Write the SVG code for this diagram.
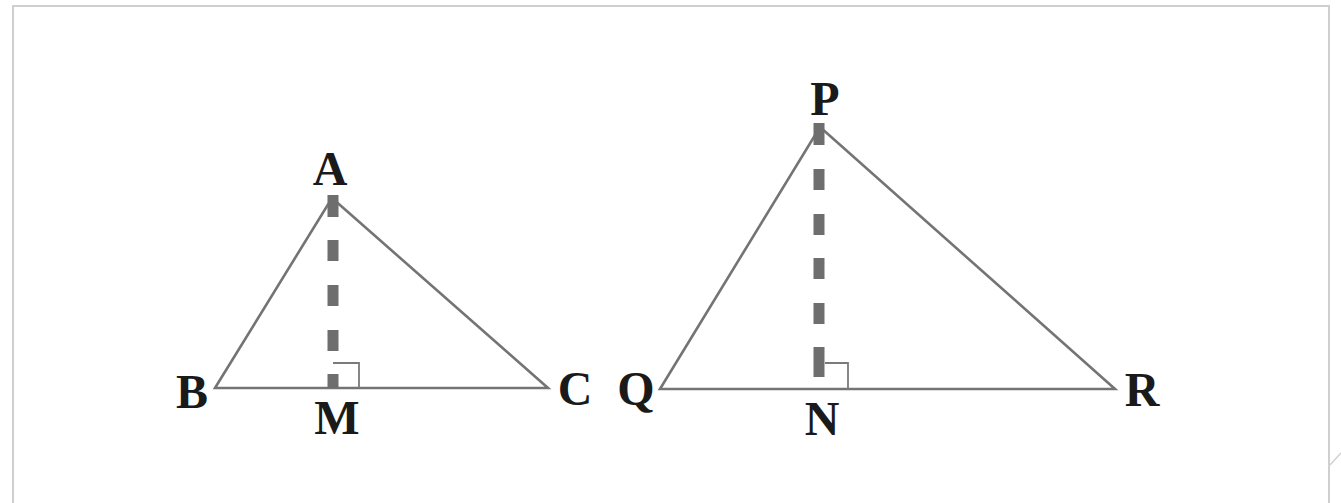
<svg xmlns="http://www.w3.org/2000/svg" width="1341" height="503" viewBox="0 0 1341 503">
<style>
.side{fill:none;stroke:#747474;stroke-width:2.6;stroke-linejoin:miter}
.alt{fill:none;stroke:#6e6e6e;stroke-width:11}
.ra{fill:none;stroke:#7a7a7a;stroke-width:1.8}
.lbl{font-family:"Liberation Serif","Times New Roman",serif;font-weight:bold;font-size:48px;fill:#1a1a1a;text-anchor:middle}
.frame{fill:none;stroke:#cfcfcf;stroke-width:2}
</style>
<rect width="1341" height="503" fill="#ffffff"/>
<g id="frame">
<path class="frame" d="M13,503 V6 H1329 V503"/>
<path d="M1330,465 L1341,453" stroke="#d0d0d0" stroke-width="1.5" fill="none"/>
</g>
<g id="triangle-ABC">
<path class="side" d="M215,388 L332,198 L548,388 Z"/>
<path class="alt" d="M333,195 V217 M333,240 V261 M333,285 V306 M333,330 V351 M333,374 V388"/>
<polyline class="ra" points="333,363 359,363 359,388"/>
</g>
<g id="triangle-PQR">
<path class="side" d="M660,389 L820,127 L1115,389 Z"/>
<path class="alt" d="M819,123 V145 M819,169 V190 M819,214 V235 M819,258 V279 M819,303 V324 M819,347 V377"/>
<polyline class="ra" points="825,363 848,363 848,389"/>
</g>
<g id="labels">
<text id="label-A" class="lbl" x="330" y="185">A</text>
<text id="label-B" class="lbl" x="192" y="408">B</text>
<text id="label-C" class="lbl" x="575" y="405">C</text>
<text id="label-M" class="lbl" x="337" y="434">M</text>
<text id="label-P" class="lbl" x="825" y="115">P</text>
<text id="label-Q" class="lbl" x="636" y="405">Q</text>
<text id="label-N" class="lbl" x="822" y="435">N</text>
<text id="label-R" class="lbl" x="1142" y="406">R</text>
</g>
</svg>
